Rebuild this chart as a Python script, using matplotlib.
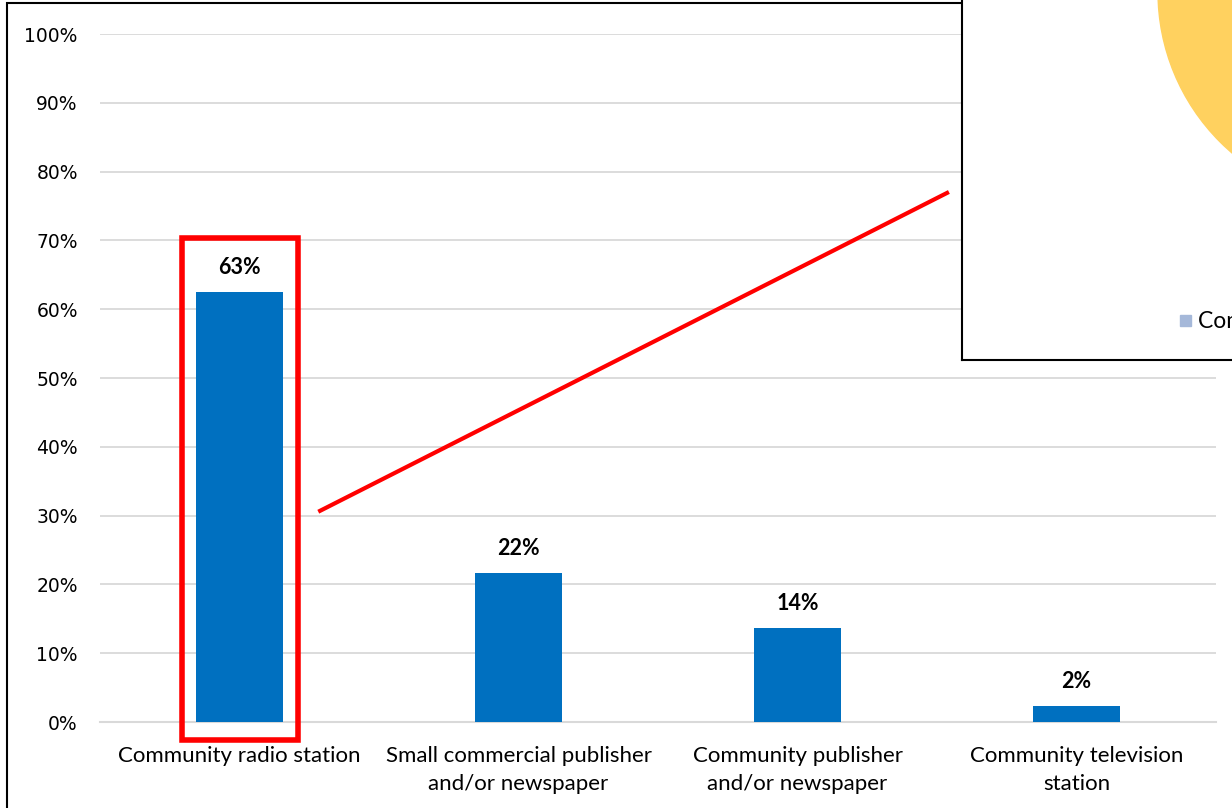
import matplotlib
matplotlib.use("Agg")
import matplotlib.pyplot as plt
from matplotlib.patches import Rectangle, Circle
from matplotlib.lines import Line2D

categories = ["Community radio station", "Small commercial publisher\nand/or newspaper",
              "Community publisher\nand/or newspaper", "Community television\nstation"]
values = [0.625, 0.217, 0.137, 0.023]
labels = ["63%", "22%", "14%", "2%"]
yticks = [0, 0.1, 0.2, 0.3, 0.4, 0.5, 0.6, 0.7, 0.8, 0.9, 1.0]
ytick_labels = ["0%", "10%", "20%", "30%", "40%", "50%", "60%", "70%", "80%", "90%", "100%"]
inset_legend = "Community radio station"

W, H = 1232, 808
fig = plt.figure(figsize=(W / 100, H / 100), dpi=100)

def fx(px):
    return px / W

def fy(py):
    return 1 - py / H

# outer border
fig.patches.append(Rectangle((fx(7), fy(900)), 2.0, fy(3) - fy(900), transform=fig.transFigure,
                             fill=False, edgecolor="black", linewidth=1.5, zorder=0))

ax = fig.add_axes([fx(100), fy(722), fx(1216) - fx(100), fy(34) - fy(722)])
x = list(range(len(categories)))
ax.bar(x, values, width=0.31, color="#0070C0", zorder=3)
ax.set_xlim(-0.5, len(categories) - 0.5)
ax.set_ylim(0, 1.0)
ax.set_yticks(yticks)
ax.set_yticklabels(ytick_labels, fontsize=13.5, family="DejaVu Sans", color="#000000")
ax.set_xticks(x)
ax.set_xticklabels(categories, fontsize=16, family="Lato", color="#000000", linespacing=1.55)
ax.tick_params(axis="both", length=0)
ax.tick_params(axis="y", pad=16)
ax.tick_params(axis="x", pad=17)
for s in ["left", "right", "top"]:
    ax.spines[s].set_visible(False)
ax.spines["bottom"].set_color("#D9D9D9")
ax.spines["bottom"].set_linewidth(1.5)
ax.grid(axis="y", color="#D9D9D9", linewidth=1.3, zorder=0)
ax.set_axisbelow(True)
ax.patch.set_alpha(0)

for xi, v, lab in zip(x, values, labels):
    ax.text(xi, v + 0.02, lab, ha="center", va="bottom", fontsize=15.5, fontweight="bold",
            family="Lato", color="#000000")

# red highlight rectangle and connector line
ax.add_patch(Rectangle((-0.206, -0.026), 0.416, 0.729, fill=False, edgecolor="#FF0000",
                       linewidth=4, clip_on=False, zorder=5))
ax.add_line(Line2D([0.289, 2.536], [0.307, 0.769], color="#FF0000", linewidth=3,
                   clip_on=False, zorder=5))

# inset box (partially visible)
ins = fig.add_axes([fx(962), fy(360), fx(500), fy(-200) - fy(360)], zorder=10)
ins.set_xlim(962, 1462)
ins.set_ylim(360, -200)
ins.set_xticks([])
ins.set_yticks([])
for s in ins.spines.values():
    s.set_linewidth(1.5)
    s.set_color("black")
ins.add_patch(Circle((1370, -8), 212, color="#FFD15F", zorder=2))
ins.add_patch(Rectangle((1180, 315), 11, 11, color="#A5B8D9", zorder=3))
ins.text(1198, 321, inset_legend, fontsize=16.5, family="Lato", va="center", ha="left",
         color="#000000")

fig.savefig("out.png", dpi=100)
